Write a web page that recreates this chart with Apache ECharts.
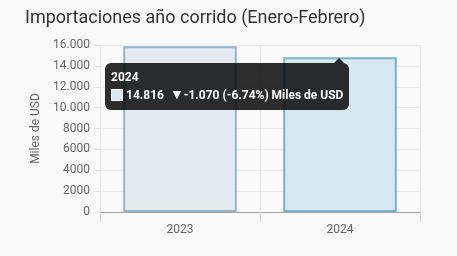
<!DOCTYPE html>
<html>
<head>
<meta charset="utf-8">
<script src="https://cdn.jsdelivr.net/npm/echarts@6/dist/echarts.min.js"></script>
<style>
  html, body { margin: 0; padding: 0; background: #fafafa; }
  #main { width: 457px; height: 256px; }
</style>
</head>
<body>
<div id="main"></div>
<script>
// datos del grafico
var years = ['2023', '2024'];
var values = [15886, 14816];
var fillColors = ['#e3ebf1', '#d8e8f2'];
var borderColors = ['#93b6cb', '#78b2cf'];
var unit = 'Miles de USD';
var tipIndex = 1; // tooltip fijo sobre 2024

function fmt_axis(v) { // eje: punto para miles solo desde 10.000
    if (Math.abs(v) < 10000) return String(v);
    return fmt_num(v);
}

function fmt_num(v) { // punto como separador de miles
    return String(v).replace(/\B(?=(\d{3})+(?!\d))/g, '.');
}

var chart = echarts.init(document.getElementById('main'));

var barData = [];
for (var i = 0; i < values.length; i++) {
    barData.push({
        value: values[i],
        itemStyle: { color: fillColors[i], borderColor: borderColors[i], borderWidth: 2 }
    });
}

var option = {
    backgroundColor: '#fafafa',
    animation: false,
    title: {
        text: 'Importaciones año corrido (Enero-Febrero)',
        left: 20, top: 4,
        textStyle: { fontFamily: 'Roboto', fontSize: 18, fontWeight: 'normal', color: '#333' }
    },
    grid: { left: 100, right: 37, top: 45, bottom: 44 },
    tooltip: {
        trigger: 'item',
        alwaysShowContent: true,
        showContent: true,
        backgroundColor: 'rgba(0,0,0,0.82)',
        borderWidth: 0,
        padding: [6, 6],
        extraCssText: 'border-radius:6px;box-shadow:none;overflow:visible;',
        textStyle: { color: '#fff', fontFamily: 'Roboto', fontSize: 12, fontWeight: 'bold' },
        position: function (point, params, dom, rect, size) {
            var p = chart.convertToPixel({ seriesIndex: 0 }, [params.dataIndex, values[params.dataIndex]]);
            return [p[0] + 9 - size.contentSize[0], p[1] + 6];
        },
        formatter: function (p) {
            var i = p.dataIndex;
            var prev = values[i - 1];
            var diff = values[i] - prev;
            var pct = (diff / prev * 100).toFixed(2);
            var arrow = diff < 0 ? '▼' : '▲';
            return '<div style="position:absolute;top:-5px;right:5px;width:0;height:0;' +
                'border-left:5px solid transparent;border-right:5px solid transparent;' +
                'border-bottom:5px solid rgba(0,0,0,0.82);"></div>' +
                '<div style="line-height:16px;">' + years[i] + '</div>' +
                '<div style="line-height:18px;white-space:nowrap;">' +
                '<span style="display:inline-block;width:12px;height:12px;vertical-align:-2px;margin-right:3px;' +
                'background:' + fillColors[i] + ';border:1px solid #fff;box-sizing:border-box;"></span>' +
                fmt_num(values[i]) + '&nbsp;&nbsp;<span style="font-size:14px;">' + arrow + '</span>' + fmt_num(diff) +
                ' (' + pct + '%) ' + unit + '</div>';
        }
    },
    xAxis: {
        type: 'category',
        data: years,
        z: 3,
        axisLine: { lineStyle: { color: '#a0a0a0' } },
        axisTick: { show: true, length: 10, lineStyle: { color: '#d6d6d6' } },
        axisLabel: { color: '#666', fontFamily: 'Roboto', fontSize: 12, margin: 12 },
        splitLine: { show: true, lineStyle: { color: '#e6e6e6' } }
    },
    yAxis: {
        type: 'value',
        min: 0, max: 16000, interval: 2000,
        name: unit,
        nameLocation: 'middle',
        nameGap: 56,
        nameTextStyle: { color: '#666', fontFamily: 'Roboto', fontSize: 12 },
        axisLine: { show: true, lineStyle: { color: '#e6e6e6' } },
        axisTick: { show: true, length: 6, lineStyle: { color: '#e0e0e0' } },
        axisLabel: { color: '#666', fontFamily: 'Roboto', fontSize: 12, margin: 10, formatter: fmt_axis },
        splitLine: { lineStyle: { color: '#ececec' } }
    },
    series: [{
        type: 'bar',
        data: barData,
        barWidth: '71%'
    }]
};
chart.setOption(option);
chart.dispatchAction({ type: 'showTip', seriesIndex: 0, dataIndex: tipIndex });
</script>
</body>
</html>
